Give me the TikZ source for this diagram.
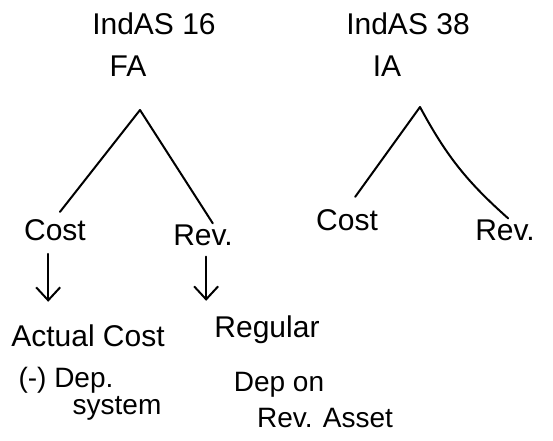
\documentclass[tikz,border=0pt]{standalone}
\usepackage{fontspec}
\setmainfont{Liberation Sans}
\usetikzlibrary{arrows.meta}
\newlength{\du}
\setlength{\du}{1pt}

\begin{document}
\begin{tikzpicture}[
  hand/.style={inner sep=1pt, font=\fontsize{30}{34}\selectfont},
  note/.style={inner sep=1pt, font=\fontsize{28}{32}\selectfont},
  branch/.style={line width=2pt, line cap=round},
  fwd/.style={line width=2pt, line cap=round, -{Straight Barb[length=13pt,width=24pt]}}
]
\pgftransformxscale{1.000000}
\pgftransformyscale{-1.000000}
\definecolor{dialinecolor}{rgb}{0.000000, 0.000000, 0.000000}
\pgfsetstrokecolor{dialinecolor}
\useasboundingbox (0\du,0\du) rectangle (553\du,440\du);
% left tree
\node[hand] (indas16) at (154\du,24\du){IndAS 16};
\node[hand] (fa) at (128\du,66\du){FA};
\coordinate (faapex) at (140\du,110\du);
\node[hand] (cost1) at (55\du,230\du){Cost};
\node[hand] (rev1) at (203\du,235\du){Rev.};
\draw[branch, shorten >=8pt] (faapex)--(cost1.north);
\draw[branch] (faapex)--(rev1.50);
% under the left tree
\node[hand] (actual) at (88\du,336\du){Actual Cost};
\node[note] (dep1) at (66\du,380\du){(-) Dep.};
\node[note] (system) at (117\du,408\du){system};
\node[hand] (regular) at (267\du,330\du){Regular};
\node[note] (depon) at (279\du,385\du){Dep on};
\node[note] (revasset) at (325\du,418\du){Rev. Asset};
\draw[fwd, shorten <=12pt, shorten >=22pt] (cost1.240)--(cost1.240 |- actual.north);
\draw[fwd, shorten <=10pt, shorten >=14pt] (rev1.-75)--(rev1.-75 |- regular.north);
% right tree
\node[hand] (indas38) at (408\du,24\du){IndAS 38};
\node[hand] (ia) at (387\du,66\du){IA};
\coordinate (iaapex) at (420\du,107\du);
\node[hand] (cost2) at (347\du,220\du){Cost};
\node[hand] (rev2) at (505\du,230\du){Rev.};
\draw[branch, shorten >=14pt] (iaapex)--(cost2.north);
\draw[branch] (iaapex) to[bend left=10] (rev2.75);
\end{tikzpicture}
\end{document}
